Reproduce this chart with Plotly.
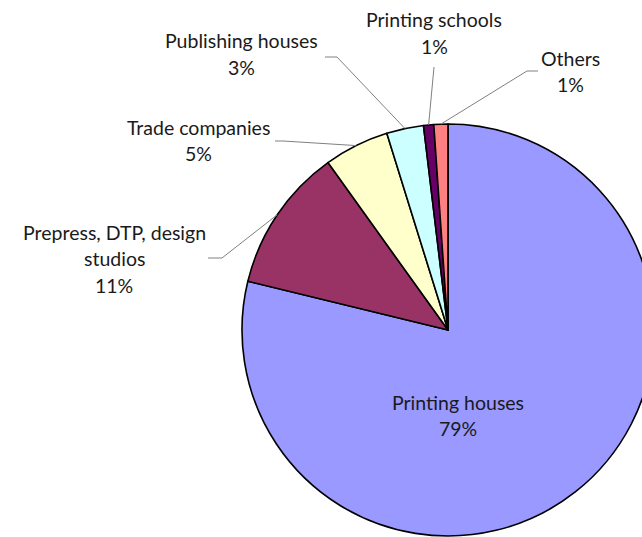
import math
import plotly.graph_objects as go

# ---- data ----
categories = ["Printing houses", "Prepress, DTP, design studios", "Trade companies",
              "Publishing houses", "Printing schools", "Others"]
label_lines = [["Printing houses"], ["Prepress, DTP, design", "studios"], ["Trade companies"],
               ["Publishing houses"], ["Printing schools"], ["Others"]]
values = [78.8, 11.3, 5.1, 2.9, 0.8, 1.1]
colors = ["#9999FF", "#993366", "#FFFFCC", "#CCFFFF", "#660066", "#FF8080"]

# ---- layout constants (pixels) ----
W, H = 660, 537
CX, CY, R = 448, 330, 206
FONT = "Lato"
FS = 19.5
LINE_GAP = 26.5
# label centre (x, y of first line) per category
label_pos = [(458, 402), (114, 232), (198, 127), (242, 41), (434, 20), (570, 58)]
# leader line start points (from label side), pie endpoint computed
leader_start = [None, [(208, 258), (222, 258)], [(275, 141), (283, 141)],
                [(325, 57), (337, 57)], [(434, 67)], [(538, 71), (527, 71)]]


def paper(x, y):
    return x / W, 1 - y / H


fig = go.Figure(go.Pie(
    labels=categories, values=values, sort=False, direction="clockwise", rotation=0,
    marker=dict(colors=colors, line=dict(color="black", width=1.6)),
    textinfo="none", hoverinfo="label+percent", showlegend=False,
    domain=dict(x=[(CX - R) / W, (CX + R) / W], y=[1 - (CY + R) / H, 1 - (CY - R) / H]),
))

total = sum(values)
annotations = []
shapes = []
cum = 0.0
for i, (cat, v) in enumerate(zip(categories, values)):
    pct = f"{round(v / total * 100)}%"
    lines = label_lines[i] + [pct]
    lx, ly = label_pos[i]
    for k, t in enumerate(lines):
        xp, yp = paper(lx, ly + k * LINE_GAP)
        annotations.append(dict(text=t, x=xp, y=yp, xref="paper", yref="paper",
                                showarrow=False, xanchor="center", yanchor="middle",
                                font=dict(family=FONT, size=FS, color="#1a1a1a")))
    theta = 2 * math.pi * (cum + v / 2) / total
    cum += v
    if leader_start[i]:
        ex = CX + R * math.sin(theta)
        ey = CY - R * math.cos(theta)
        pts = leader_start[i] + [(ex, ey)]
        path = ""
        for j, (x, y) in enumerate(pts):
            xp, yp = paper(x, y)
            path += ("M" if j == 0 else " L") + f"{xp:.5f},{yp:.5f}"
        shapes.append(dict(type="path", path=path, xref="paper", yref="paper",
                           line=dict(color="#808080", width=1)))

fig.update_layout(width=W, height=H, margin=dict(l=0, r=0, t=0, b=0),
                  paper_bgcolor="white", plot_bgcolor="white",
                  annotations=annotations, shapes=shapes)

fig.write_html("out.html", config={"displayModeBar": False},
               post_script="document.body.style.margin='0';document.body.style.overflow='hidden';"
                           "document.documentElement.style.overflow='hidden';")
